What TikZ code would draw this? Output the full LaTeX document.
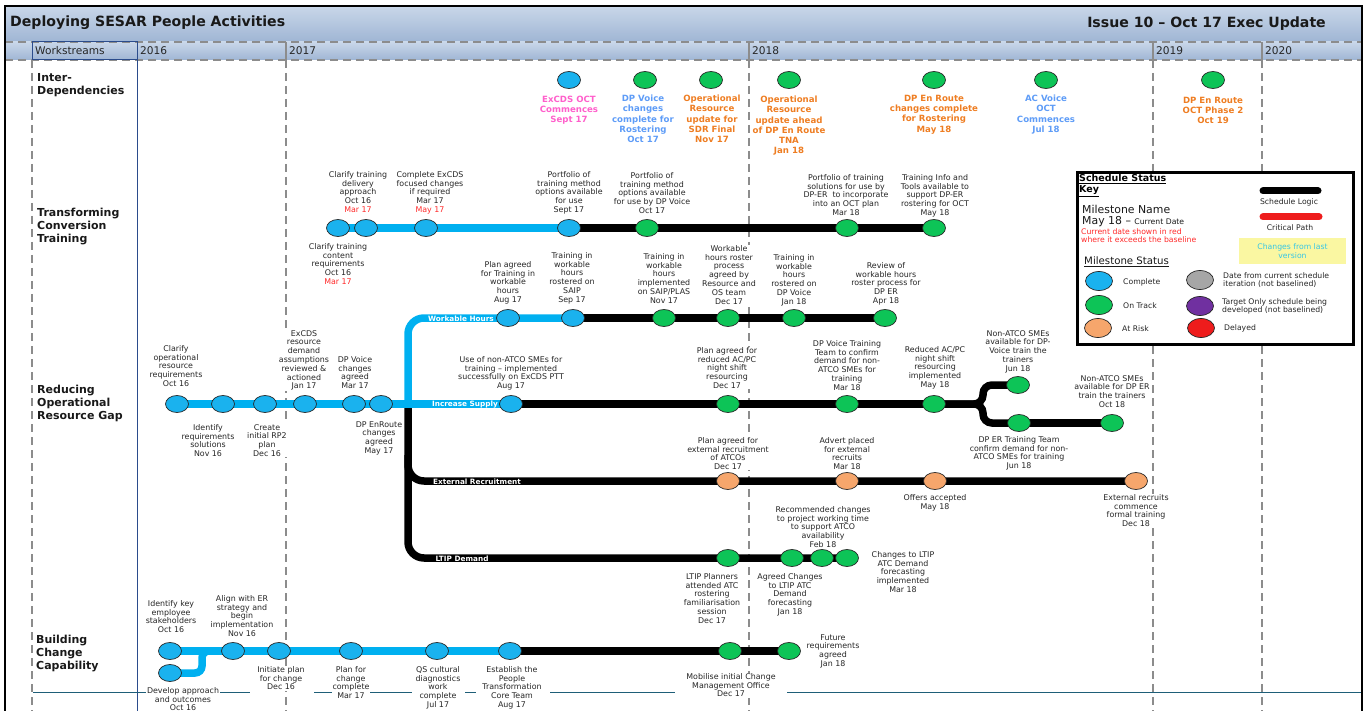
\documentclass[tikz,border=0pt]{standalone}
\usepackage{fontspec}
\setmainfont{DejaVu Sans}
\usetikzlibrary{shapes.geometric}
\pgfdeclarelayer{back}
\pgfdeclarelayer{lines}
\pgfsetlayers{back,lines,main}
\definecolor{cmpc}{HTML}{1AB2EE}
\definecolor{trkc}{HTML}{0DC457}
\definecolor{rskc}{HTML}{F6A66C}
\definecolor{grayc}{HTML}{A6A6A6}
\definecolor{purc}{HTML}{7030A0}
\definecolor{delc}{HTML}{EE1C1C}
\definecolor{bluec}{HTML}{00B0F0}
\definecolor{pinkc}{HTML}{FF5FCB}
\definecolor{lbluec}{HTML}{5E9CF7}
\definecolor{orc}{HTML}{EE7D22}
\definecolor{redd}{HTML}{FF2A2A}
\definecolor{cyanc}{HTML}{36C6E6}
\definecolor{yelc}{HTML}{FAF7A2}
\definecolor{wsblue}{HTML}{2B4C8C}
\definecolor{tealc}{HTML}{1E5E78}
\definecolor{hdtop}{HTML}{C9D7E9}
\definecolor{hdbot}{HTML}{9FB5D4}
\definecolor{dgray}{HTML}{8C8C8C}
\begin{document}
\begin{tikzpicture}[x=1pt,y=-1pt,
  ms/.style={ellipse, draw=black!85, line width=0.7pt, minimum width=23pt, minimum height=17pt, inner sep=0pt},
  cmp/.style={ms, fill=cmpc},
  trk/.style={ms, fill=trkc},
  rsk/.style={ms, fill=rskc},
  kms/.style={ellipse, draw=black!85, line width=0.7pt, minimum width=27pt, minimum height=19pt, inner sep=0pt},
  lb/.style={align=center, font=\fontsize{7.9}{8.8}\selectfont, inner sep=0.6pt, fill=white, text=black!85, anchor=north},
  ib/.style={align=center, font=\bfseries\fontsize{8.6}{10.2}\selectfont, inner sep=0pt, anchor=north},
  ws/.style={align=left, font=\bfseries\fontsize{11}{13}\selectfont, inner sep=0pt, anchor=north west, text=black!90},
  bluepath/.style={line width=7.5pt, draw=bluec},
  blackpath/.style={line width=7.5pt, draw=black},
  tag/.style={text=white, font=\bfseries\fontsize{7.3}{7.5}\selectfont, inner sep=0pt},
  yearline/.style={draw=dgray, line width=1.4pt, dash pattern=on 8pt off 5pt},
  yr/.style={anchor=west, font=\fontsize{10.6}{11}\selectfont, inner sep=0pt, text=black!85},
  kt/.style={anchor=west, font=\fontsize{7.7}{8.6}\selectfont, inner sep=0pt, align=left, text=black!85}
]
\useasboundingbox (0,0) rectangle (1370,711);

% ---------- background / frame ----------
\begin{pgfonlayer}{back}
\shade[top color=hdtop, bottom color=hdbot] (5,6) rectangle (1362,42);
\shade[top color=hdtop, bottom color=hdbot] (5,42) rectangle (1362,60);
\draw[yearline] (5,42) -- (1362,42);
\draw[yearline] (5,60) -- (1362,60);
\foreach \xx in {286,749,1153,1262}{
  \draw[dgray, line width=1.2pt] (\xx,42) -- (\xx,60);
  \draw[yearline] (\xx,60) -- (\xx,711);
}
\draw[wsblue, line width=1pt] (32,42) rectangle (137,60);
\draw[wsblue, line width=1pt] (137,60) -- (137,711);
\draw[yearline] (32,60) -- (32,711);
\foreach \a/\b in {33/250,314/412,465/476,550/675,787/1362}{
  \draw[tealc, line width=1pt] (\a,692) -- (\b,692);
}
\end{pgfonlayer}

\node[anchor=west, font=\bfseries\fontsize{14.1}{15}\selectfont, inner sep=0pt, text=black!90] (title) at (10,23) {Deploying SESAR People Activities};
\node[anchor=east, font=\bfseries\fontsize{14.1}{15}\selectfont, inner sep=0pt, text=black!90] (issue) at (1326,24) {Issue 10 – Oct 17 Exec Update};
\node[yr] (wsl) at (35,50.5) {Workstreams};
\node[yr] (y16) at (140,51) {2016};
\node[yr] (y17) at (289,51) {2017};
\node[yr] (y18) at (752,51) {2018};
\node[yr] (y19) at (1156,51) {2019};
\node[yr] (y20) at (1265,51) {2020};

\node[ws] (h1) at (37,73) {Inter-\\Dependencies};
\node[ws] (h2) at (37,207.5) {Transforming\\Conversion\\Training};
\node[ws] (h3) at (37,384.5) {Reducing\\Operational\\Resource Gap};
\node[ws] (h4) at (36,634.5) {Building\\Change\\Capability};

% ---------- Inter-dependencies ----------
\node[cmp] (I1) at (569,80) {};
\node[ib, text=pinkc] (tI1) at (569,96) {ExCDS OCT\\Commences\\Sept 17};
\node[trk] (I2) at (645,80) {};
\node[ib, text=lbluec] (tI2) at (643,95) {DP Voice\\changes\\complete for\\Rostering\\Oct 17};
\node[trk] (I3) at (711,80) {};
\node[ib, text=orc] (tI3) at (712,95) {Operational\\Resource\\update for\\SDR Final\\Nov 17};
\node[trk] (I4) at (789,80) {};
\node[ib, text=orc] (tI4) at (789,96) {Operational\\Resource\\update ahead\\of DP En Route\\TNA\\Jan 18};
\node[trk] (I5) at (934,80) {};
\node[ib, text=orc] (tI5) at (934,95) {DP En Route\\changes complete\\for Rostering\\May 18};
\node[trk] (I6) at (1046,80) {};
\node[ib, text=lbluec] (tI6) at (1046,95) {AC Voice\\OCT\\Commences\\Jul 18};
\node[trk] (I7) at (1213,80) {};
\node[ib, text=orc] (tI7) at (1213,97) {DP En Route\\OCT Phase 2\\Oct 19};

% ---------- Transforming Conversion Training ----------
\node[cmp] (T1) at (338,228) {};
\node[cmp] (T2) at (366,228) {};
\node[cmp] (T3) at (426,228) {};
\node[cmp] (T4) at (569,228) {};
\node[trk] (T5) at (647,228) {};
\node[trk] (T6) at (847,228) {};
\node[trk] (T7) at (934,228) {};
\node[lb] (tT1) at (338,242.5) {Clarify training\\content\\requirements\\Oct 16\\\textcolor{redd}{Mar 17}};
\node[lb] (tT2) at (358,170.5) {Clarify training\\delivery\\approach\\Oct 16\\\textcolor{redd}{Mar 17}};
\node[lb] (tT3) at (430,170.5) {Complete ExCDS\\focused changes\\if required\\Mar 17\\\textcolor{redd}{May 17}};
\node[lb] (tT4) at (569,170.5) {Portfolio of\\training method\\options available\\for use\\Sept 17};
\node[lb] (tT5) at (652,171.5) {Portfolio of\\training method\\options available\\for use by DP Voice\\Oct 17};
\node[lb] (tT6) at (846,173.5) {Portfolio of training\\solutions for use by\\DP-ER\ \ to incorporate\\into an OCT plan\\Mar 18};
\node[lb] (tT7) at (935,173.5) {Training Info and\\Tools available to\\support DP-ER\\rostering for OCT\\May 18};

% ---------- Reducing Operational Resource Gap ----------
\node[cmp] (R1) at (177,404) {};
\node[cmp] (R2) at (223,404) {};
\node[cmp] (R3) at (265,404) {};
\node[cmp] (R4) at (305,404) {};
\node[cmp] (R5) at (354,404) {};
\node[cmp] (R6) at (381,404) {};
\node[lb] (tR1) at (176,344.5) {Clarify\\operational\\resource\\requirements\\Oct 16};
\node[lb] (tR2) at (208,423.5) {Identify\\requirements\\solutions\\Nov 16};
\node[lb] (tR3) at (267,423.5) {Create\\initial RP2\\plan\\Dec 16};
\node[lb] (tR4) at (304,329.5) {ExCDS\\resource\\demand\\assumptions\\reviewed \&\\actioned\\Jan 17};
\node[lb] (tR5) at (355,355.5) {DP Voice\\changes\\agreed\\Mar 17};
\node[lb] (tR6) at (379,420.5) {DP EnRoute\\changes\\agreed\\May 17};

\coordinate (jn) at (408,404);
\coordinate (ej) at (408,455);
\coordinate (fk) at (983,404);

\node[cmp] (W1) at (508,318) {};
\node[cmp] (W2) at (573,318) {};
\node[trk] (W3) at (664,318) {};
\node[trk] (W4) at (728,318) {};
\node[trk] (W5) at (794,318) {};
\node[trk] (W6) at (885,318) {};
\node[lb] (tW1) at (508,260.5) {Plan agreed\\for Training in\\workable\\hours\\Aug 17};
\node[lb] (tW2) at (572,251.5) {Training in\\workable\\hours\\rostered on\\SAIP\\Sep 17};
\node[lb] (tW3) at (664,252.5) {Training in\\workable\\hours\\implemented\\on SAIP/PLAS\\Nov 17};
\node[lb] (tW4) at (729,244.5) {Workable\\hours roster\\process\\agreed by\\Resource and\\OS team\\Dec 17};
\node[lb] (tW5) at (794,253.5) {Training in\\workable\\hours\\rostered on\\DP Voice\\Jan 18};
\node[lb] (tW6) at (886,261.5) {Review of\\workable hours\\roster process for\\DP ER\\Apr 18};

\node[cmp] (S1) at (511,404) {};
\node[trk] (S2) at (728,404) {};
\node[trk] (S3) at (847,404) {};
\node[trk] (S4) at (934,404) {};
\node[trk] (U1) at (1018,385) {};
\node[trk] (U2) at (1019,423) {};
\node[trk] (U3) at (1112,423) {};
\node[lb] (tS1) at (511,355.5) {Use of non-ATCO SMEs for\\training – implemented\\successfully on ExCDS PTT\\Aug 17};
\node[lb] (tS2) at (727,346.5) {Plan agreed for\\reduced AC/PC\\night shift\\resourcing\\Dec 17};
\node[lb] (tS3) at (847,339.5) {DP Voice Training\\Team to confirm\\demand for non-\\ATCO SMEs for\\training\\Mar 18};
\node[lb] (tS4) at (935,345.5) {Reduced AC/PC\\night shift\\resourcing\\implemented\\May 18};
\node[lb] (tU1) at (1018,329.5) {Non-ATCO SMEs\\available for DP-\\Voice train the\\trainers\\Jun 18};
\node[lb] (tU3) at (1112,374.5) {Non-ATCO SMEs\\available for DP ER\\train the trainers\\Oct 18};
\node[lb] (tU2) at (1019,435.5) {DP ER Training Team\\confirm demand for non-\\ATCO SMEs for training\\Jun 18};

\node[rsk] (E1) at (728,481) {};
\node[rsk] (E2) at (847,481) {};
\node[rsk] (E3) at (935,481) {};
\node[rsk] (E4) at (1136,481) {};
\node[lb] (tE1) at (728,436.5) {Plan agreed for\\external recruitment\\of ATCOs\\Dec 17};
\node[lb] (tE2) at (847,436.5) {Advert placed\\for external\\recruits\\Mar 18};
\node[lb] (tE3) at (935,493.5) {Offers accepted\\May 18};
\node[lb] (tE4) at (1136,493.5) {External recruits\\commence\\formal training\\Dec 18};

\node[trk] (L1) at (728,558) {};
\node[trk] (L2) at (792,558) {};
\node[trk] (L3) at (822,558) {};
\node[trk] (L4) at (847,558) {};
\node[lb] (tL1) at (712,572.5) {LTIP Planners\\attended ATC\\rostering\\familiarisation\\session\\Dec 17};
\node[lb] (tL2) at (790,572.5) {Agreed Changes\\to LTIP ATC\\Demand\\forecasting\\Jan 18};
\node[lb] (tL3) at (823,505.5) {Recommended changes\\to project working time\\to support ATCO\\availability\\Feb 18};
\node[lb] (tL4) at (903,550.5) {Changes to LTIP\\ATC Demand\\forecasting\\implemented\\Mar 18};

% ---------- Building Change Capability ----------
\node[cmp] (B1) at (170,651) {};
\node[cmp] (B2) at (170,673) {};
\node[cmp] (B3) at (233,651) {};
\node[cmp] (B4) at (279,651) {};
\node[cmp] (B5) at (351,651) {};
\node[cmp] (B6) at (437,651) {};
\node[cmp] (B7) at (510,651) {};
\node[trk] (B8) at (730,651) {};
\node[trk] (B9) at (789,651) {};
\coordinate (bj) at (202,651);
\coordinate (bk) at (216,651);
\node[lb] (tB1) at (171,599.5) {Identify key\\employee\\stakeholders\\Oct 16};
\node[lb] (tB2) at (183,686.5) {Develop approach\\and outcomes\\Oct 16};
\node[lb] (tB3) at (242,594.5) {Align with ER\\strategy and\\begin\\implementation\\Nov 16};
\node[lb] (tB4) at (281,665.5) {Initiate plan\\for change\\Dec 16};
\node[lb] (tB5) at (351,665.5) {Plan for\\change\\complete\\Mar 17};
\node[lb] (tB6) at (438,665.5) {QS cultural\\diagnostics\\work\\complete\\Jul 17};
\node[lb] (tB7) at (512,665.5) {Establish the\\People\\Transformation\\Core Team\\Aug 17};
\node[lb] (tB8) at (731,672.5) {Mobilise initial Change\\Management Office\\Dec 17};
\node[lb] (tB9) at (833,633.5) {Future\\requirements\\agreed\\Jan 18};

% ---------- connectors ----------
\begin{pgfonlayer}{lines}
\draw[bluepath] (T1.center) -- (T4.center);
\draw[blackpath] (T4.center) -- (T7.center);
\draw[blackpath, rounded corners=16] (jn) |- (L4.center);
\draw[blackpath, rounded corners=16] (ej) |- (E4.center);
\draw[bluepath, rounded corners=16] (jn) |- (W2.center);
\draw[blackpath] (W2.center) -- (W6.center);
\draw[bluepath] (R1.center) -- (S1.center);
\draw[blackpath] (S1.center) -- (S4.center);
\draw[blackpath, rounded corners=9] (S4.center) -- (fk) |- (U1.center);
\draw[blackpath, rounded corners=9] (S4.center) -- (fk) |- (U2.center);
\draw[blackpath] (U2.center) -- (U3.center);
\draw[bluepath] (B1.center) -- (B7.center);
\draw[blackpath] (B7.center) -- (B9.center);
\draw[bluepath, rounded corners=7] (B2.center) -| (bj) -- (bk);
\end{pgfonlayer}

\node[tag] (gW) at (461,318.5) {Workable Hours};
\node[tag] (gS) at (465,404.5) {Increase Supply};
\node[tag] (gE) at (477,481.5) {External Recruitment};
\node[tag] (gL) at (462,558.5) {LTIP Demand};

% ---------- legend ----------
\node[draw, line width=3pt, fill=white, minimum width=276pt, minimum height=172pt, anchor=north west, inner sep=0pt] (key) at (1076,171) {};
\node[anchor=west, font=\bfseries\fontsize{9.5}{11}\selectfont, inner sep=0pt, align=left] (k1) at (1079,185.5) {\underline{Schedule Status}\\\underline{Key}};
\node[anchor=west, font=\fontsize{10.9}{12}\selectfont, inner sep=0pt, text=black!90] (k2) at (1082,209) {Milestone Name};
\node[anchor=west, font=\fontsize{10.9}{12}\selectfont, inner sep=0pt, text=black!90] (k3) at (1082,222) {May 18 – {\fontsize{7.7}{8}\selectfont Current Date}};
\node[kt, text=redd] (k4) at (1081,235.5) {Current date shown in red\\where it exceeds the baseline};
\coordinate (kb1) at (1263,191);
\coordinate (kb2) at (1318,191);
\draw[line width=7pt, line cap=round] (kb1) -- (kb2);
\node[font=\fontsize{7.7}{8}\selectfont, inner sep=0pt, text=black!85] (k5) at (1289,202) {Schedule Logic};
\coordinate (kr1) at (1263,217);
\coordinate (kr2) at (1319,217);
\draw[line width=7pt, line cap=round, draw=delc] (kr1) -- (kr2);
\node[font=\fontsize{7.7}{8}\selectfont, inner sep=0pt, text=black!85] (k6) at (1290,228) {Critical Path};
\node[fill=yelc, minimum width=107pt, minimum height=26pt, inner sep=0pt, align=center, font=\fontsize{7.7}{8.8}\selectfont, text=cyanc] (k7) at (1292.5,251) {Changes from last\\version};
\node[anchor=west, font=\fontsize{10.2}{11}\selectfont, inner sep=0pt, text=black!90] (k8) at (1084,262) {\underline{Milestone Status}};
\node[kms, fill=cmpc] (kc) at (1099,281) {};
\node[kms, fill=trkc] (kt2) at (1099,305) {};
\node[kms, fill=rskc] (kr) at (1098,328) {};
\node[kms, fill=grayc] (kg) at (1200,280) {};
\node[kms, fill=purc] (kp) at (1200,306) {};
\node[kms, fill=delc] (kd) at (1201,328) {};
\node[kt] (kc1) at (1123,282) {Complete};
\node[kt] (kt1) at (1123,306) {On Track};
\node[kt] (kr3) at (1122,329) {At Risk};
\node[kt] (kg1) at (1223,280) {Date from current schedule\\iteration (not baselined)};
\node[kt] (kp1) at (1222,306.5) {Target Only schedule being\\developed (not baselined)};
\node[kt] (kd1) at (1224,328) {Delayed};

% ---------- frame ----------
\draw[line width=2.2pt] (5,711) -- (5,6) -- (1362,6) -- (1362,711);
\end{tikzpicture}
\end{document}
